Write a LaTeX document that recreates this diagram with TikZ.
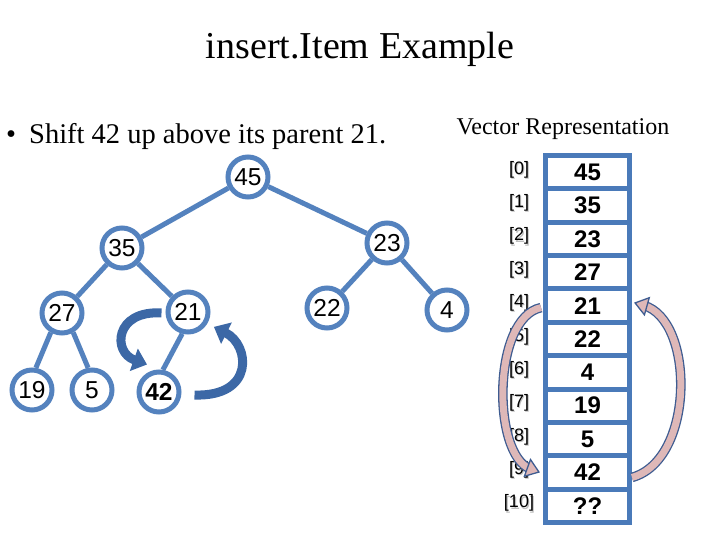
\documentclass[tikz,border=0pt]{standalone}
\usepackage{fontspec}
\setmainfont{Liberation Serif}
\newfontfamily\arialf{Liberation Sans}
\usetikzlibrary{arrows.meta}
\definecolor{treeblue}{RGB}{84,130,190}
\definecolor{vecblue}{RGB}{74,122,185}
\definecolor{darkarrow}{RGB}{60,104,166}
\definecolor{pinkfill}{RGB}{222,184,184}
\definecolor{pinkline}{RGB}{62,92,145}
\newcommand{\shadowtext}[1]{\makebox[0pt][l]{\hspace{1.2pt}\raisebox{-1.2pt}{\color{black!25}#1}}#1}
\tikzset{
  tnode/.style={circle, draw=treeblue, line width=5pt, fill=white, minimum size=40pt, inner sep=0pt, font=\arialf\fontsize{24.5}{25}\selectfont},
  tedge/.style={draw=treeblue, line width=5pt},
  cell/.style={rectangle, draw=vecblue, line width=5pt, fill=white, minimum width=84pt, minimum height=33.36pt, inner sep=0pt, font=\arialf\bfseries\fontsize{24}{25}\selectfont},
  idx/.style={font=\arialf\fontsize{18}{19}\selectfont, inner sep=0pt},
  fatarrow/.style={draw=darkarrow, line width=9pt, -{Triangle[length=14pt,width=23pt]}},
  pinkbody/.style={draw=pinkline, line width=1.3pt, double=pinkfill, double distance=7pt, shorten >=10pt},
  pinkhead/.style={draw=pinkfill, line width=1pt, -{Triangle[length=14pt,width=20pt,color=pinkline,fill=pinkfill,line width=1.3pt]}}
}
\begin{document}
\begin{tikzpicture}[x=1pt,y=-1pt]
\useasboundingbox (0,0) rectangle (720,540);
\fill[white] (0,0) rectangle (720,540);
% titles
\node[font=\fontsize{38}{40}\selectfont, inner sep=0pt] (title) at (360,49) {insert.Item Example};
\node[font=\fontsize{28.5}{30}\selectfont, anchor=west, inner sep=0pt] (bullet) at (6,137) {\textbullet\hspace{13pt}Shift 42 up above its parent 21.};
\node[font=\fontsize{24}{26}\selectfont, inner sep=0pt] (vrep) at (563,129) {Vector Representation};
% tree nodes
\node[tnode] (n45) at (248,177) {45};
\node[tnode] (n35) at (122,248) {35};
\node[tnode] (n23) at (387,243) {23};
\node[tnode] (n27) at (62,313) {27};
\node[tnode] (n21) at (188,312) {21};
\node[tnode] (n22) at (327,308) {22};
\node[tnode] (n4) at (447,310) {4};
\node[tnode] (n19) at (32,390) {19};
\node[tnode] (n5) at (92,390) {5};
\node[tnode] (n42) at (159,392) {\textbf{42}};
% tree edges
\draw[tedge] (n45) -- (n35);
\draw[tedge] (n45) -- (n23);
\draw[tedge] (n35) -- (n27);
\draw[tedge] (n35) -- (n21);
\draw[tedge] (n23) -- (n22);
\draw[tedge] (n23) -- (n4);
\draw[tedge] (n27.240) -- (n19.80);
\draw[tedge] (n27.300) -- (n5.100);
\draw[tedge] (n21.255) -- (n42.80);
% swap arrows in the tree
\coordinate (la) at ([xshift=-4pt,yshift=-1pt]n21.west);
\coordinate (lb) at ([xshift=-12pt,yshift=5pt]n42.north);
\draw[fatarrow] (la) .. controls (115,310) and (112,352) .. (lb);
\coordinate (ra) at ([xshift=13pt,yshift=-3pt]n42.east);
\coordinate (rb) at ([xshift=10pt,yshift=1pt]n21.south east);
\draw[fatarrow] (ra) .. controls (255,397) and (250,345) .. (rb);
% vector
\foreach \i/\v in {0/45,1/35,2/23,3/27,4/21,5/22,6/4,7/19,8/5,9/42,10/??}{
  \node[cell] (c\i) at (587.5,{155.5+33.36*(\i+0.5)}) {\v};
  \node[idx] (i\i) at (519,{153.5+33.36*(\i+0.5)}) {\shadowtext{[\i]}};
}
% vector arrows
\coordinate (va) at ([xshift=-2pt,yshift=-2pt]c4.west);
\coordinate (vb) at ([xshift=-3pt]c9.west);
\draw[pinkbody] (va) .. controls (492,318) and (492,455) .. (vb);
\draw[pinkhead] (va) .. controls (492,318) and (492,455) .. (vb);
\coordinate (wa) at ([xshift=0pt,yshift=-5pt]c9.east);
\coordinate (wb) at ([xshift=2pt,yshift=3pt]c4.east);
\draw[pinkbody] (wa) .. controls (695,460) and (695,320) .. (wb);
\draw[pinkhead] (wa) .. controls (695,460) and (695,320) .. (wb);
\end{tikzpicture}
\end{document}
